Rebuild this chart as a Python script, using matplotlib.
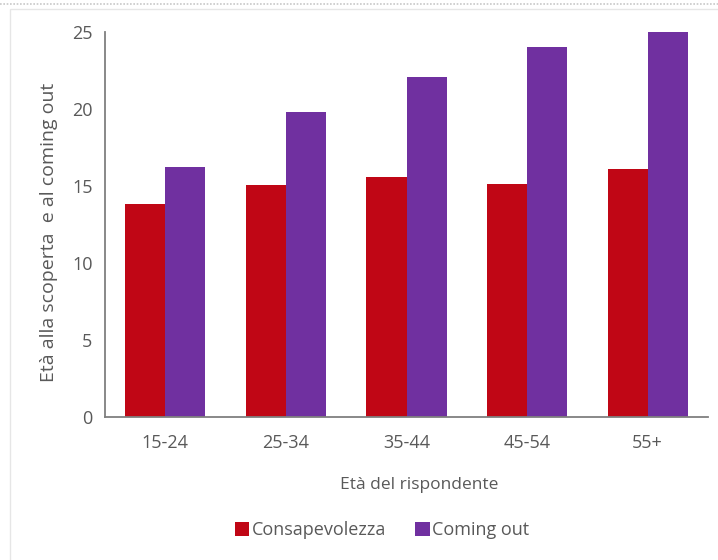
import numpy as np
import matplotlib
matplotlib.use('Agg')
import matplotlib.pyplot as plt
from matplotlib.patches import Rectangle
from matplotlib.lines import Line2D

# Dati
fasce = ['15-24', '25-34', '35-44', '45-54', '55+']
consapevolezza = [13.8, 15.05, 15.6, 15.1, 16.1]
coming_out = [16.25, 19.8, 22.05, 24.05, 25.0]
yticks = [0, 5, 10, 15, 20, 25]

ROSSO = '#C00615'
VIOLA = '#7030A0'
GRIGIO = '#595959'

plt.rcParams['font.family'] = ['Open Sans', 'DejaVu Sans']

fig = plt.figure(figsize=(7.18, 5.6), dpi=100)

# cornice leggera attorno al grafico
fig.add_artist(Line2D([0, 1], [1 - 3.5 / 560] * 2, transform=fig.transFigure,
                      color='#C8C8C8', lw=1.2, ls=(0, (1, 1))))
fig.add_artist(Rectangle((10 / 718, -0.1), 1.2, 1.1 - 9 / 560,
                         transform=fig.transFigure, fill=False,
                         edgecolor='#E6E6E6', lw=1))

ax = fig.add_axes([105 / 718, 1 - 417 / 560, 603 / 718, 385 / 560])

x = np.arange(len(fasce))
w = 0.332
ax.bar(x - w / 2, consapevolezza, width=w, color=ROSSO, label='Consapevolezza')
ax.bar(x + w / 2, coming_out, width=w, color=VIOLA, label='Coming out')

ax.set_xlim(-0.5, len(fasce) - 0.5)
ax.set_ylim(0, 25)
ax.set_yticks(yticks)
ax.set_xticks(x)
ax.set_xticklabels(fasce)

for s in ['top', 'right']:
    ax.spines[s].set_visible(False)
for s in ['left', 'bottom']:
    ax.spines[s].set_color('#7F7F7F')
    ax.spines[s].set_linewidth(1.3)

ax.tick_params(axis='x', length=0, pad=12, labelsize=13, labelcolor=GRIGIO)
ax.tick_params(axis='y', length=0, pad=9, labelsize=13, labelcolor=GRIGIO)

ax.set_xlabel('Età del rispondente', fontsize=12.5, color=GRIGIO, va='center')
ax.set_ylabel('Età alla scoperta  e al coming out', fontsize=14, color=GRIGIO,
              va='center')
ax.xaxis.set_label_coords((419 - 105) / 603, (417 - 485) / 385)
ax.yaxis.set_label_coords((49 - 105) / 603, 0.48)

leg = fig.legend(loc='center', bbox_to_anchor=(382 / 718, 1 - 530 / 560), ncol=2,
                 frameon=False, fontsize=13, handlelength=0.8,
                 handleheight=0.8, handletextpad=0.15, columnspacing=1.6)
for t in leg.get_texts():
    t.set_color(GRIGIO)

fig.savefig('out.png', dpi=100)
plt.close('all')
